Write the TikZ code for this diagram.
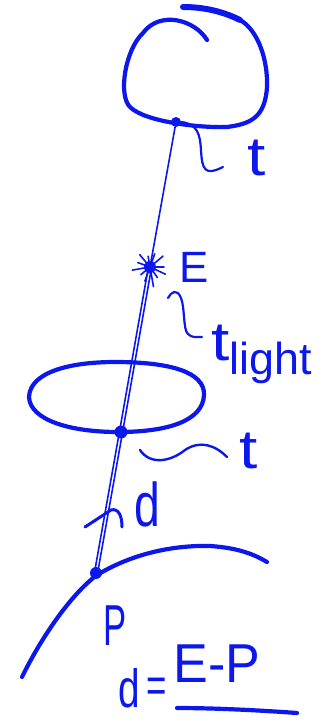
\documentclass[tikz,border=0pt]{standalone}
\usepackage{fontspec}
\setmainfont{Liberation Sans}
\usetikzlibrary{calc}
\definecolor{ink}{RGB}{12,24,235}
\newcommand{\fs}[1]{\fontsize{#1}{#1}\selectfont}
\begin{document}
\begin{tikzpicture}[x=1bp,y=-1bp,
  thick ink/.style={draw=ink,line width=4.2bp,line cap=round,line join=round},
  thin ink/.style={draw=ink,line width=1.6bp,line cap=round,line join=round},
  dot/.style={circle,fill=ink,inner sep=0pt,minimum size=10bp},
  lbl/.style={text=ink,inner sep=0pt}]
\useasboundingbox (0,0) rectangle (323,721);
% top blob
\draw[thick ink] (207,40) .. controls (195,20) and (160,10) .. (143,33)
  .. controls (125,50) and (118,95) .. (130,107)
  .. controls (145,122) and (200,128) .. (227,127)
  .. controls (250,124) and (265,118) .. (267,87)
  .. controls (268,60) and (258,30) .. (240,20);
\draw[ink,line width=6bp,line cap=round] (240,20) .. controls (220,10) and (200,7) .. (183,7);
\node[dot] (top) at (176,122) {};
% E
\node[circle,fill=ink,inner sep=0pt,minimum size=12bp] (E) at (150,267) {};
\foreach \a/\r in {0/14,25/17,55/13,80/20,110/15,140/12,170/18,200/13,230/16,260/11,290/14,320/17}{
  \draw[thin ink] ($(E)+(\a:5)$) -- ($(E)+(\a:\r)$);}
\node[lbl,font=\fs{44}] (Elbl) at (194,267) {E};
% middle ellipse
\draw[thick ink] (118,432) .. controls (70,432) and (30,420) .. (29,397)
  .. controls (30,372) and (70,362) .. (115,362)
  .. controls (170,362) and (205,372) .. (204,395)
  .. controls (203,420) and (170,432) .. (118,432);
\node[dot,minimum size=13bp] (mid) at (121,432) {};
% P curve
\draw[thick ink] (22,677) .. controls (40,640) and (70,595) .. (97,575)
  .. controls (130,555) and (170,545) .. (210,546)
  .. controls (240,548) and (255,555) .. (267,562);
\node[dot,minimum size=12bp] (P) at (96,573) {};
% rays
\draw[thin ink] (top) -- (E);
\draw[thin ink] ([xshift=-1.6bp]E.center) -- ([xshift=-1.6bp]mid.center) -- ([xshift=-1.6bp]P.center);
\draw[thin ink] ([xshift=1.6bp]E.center) -- ([xshift=1.6bp]mid.center) -- ([xshift=1.6bp]P.center);
% arrow head d
\coordinate (tip) at (111,510);
\draw[thick ink,line width=3bp] (85,527) -- (tip) .. controls (118,508) and (122,515) .. (122,527);
\node[lbl,font=\fs{62}] (dlbl) at (147,504) {\scalebox{0.75}[1]{d}};
% squiggles and t labels
\draw[thin ink,line width=2.2bp] (top.east) .. controls (198,124) and (200,135) .. (201,150)
  .. controls (202,170) and (205,176) .. (223,167);
\node[lbl,font=\fs{55}] (t1) at (257,158) {\scalebox{1.2}[1]{t}};
\draw[thin ink,line width=2.2bp] (168,298) .. controls (171,292) and (177,288) .. (181,298)
  .. controls (185,308) and (183,330) .. (188,334) .. controls (192,338) and (196,337) .. (202,337);
\node[lbl,font=\fs{55},anchor=base west] (tl) at (211,360) {\scalebox{1.2}[1]{t}\raisebox{-14bp}{\fs{45}light}};
\draw[thin ink,line width=2.4bp] (140,450) .. controls (150,465) and (170,462) .. (185,450)
  .. controls (200,440) and (215,445) .. (227,457);
\node[lbl,font=\fs{55}] (t2) at (249,451) {\scalebox{1.2}[1]{t}};
% P labels
\node[lbl,font=\fs{58}] (Plbl) at (115,626) {\scalebox{0.6}[1]{P}};
\node[lbl,font=\fs{54}] (dd) at (129,688) {\scalebox{0.72}[1]{d}};
\node[lbl,font=\fs{50}] (eq) at (157,690) {\scalebox{0.7}[1]{=}};
\node[lbl,font=\fs{55}] (EP) at (217,664) {\scalebox{0.95}[1]{E-P}};
\draw[thick ink] (177,708) .. controls (220,708) and (270,711) .. (297,713);
\end{tikzpicture}
\end{document}
